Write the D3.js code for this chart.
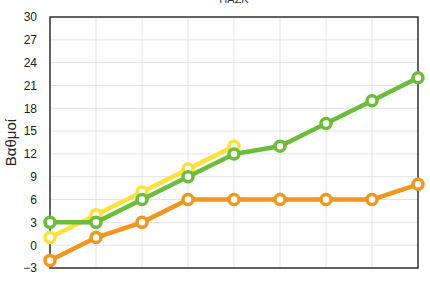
<!DOCTYPE html>
<html><head><meta charset="utf-8">
<script src="https://cdn.jsdelivr.net/npm/d3@7"></script>
<style>body{margin:0;background:#fff}svg{display:block}</style>
</head><body>
<svg id="c" width="430" height="286"></svg>
<script>
const categories = [1,2,3,4,5,6,7,8,9];
const orangeValues = [-2,1,3,6,6,6,6,6,8];
const yellowValues = [1,4,7,10,13];
const greenValues = [3,3,6,9,12,13,16,19,22];
const yTicks = [-3,0,3,6,9,12,15,18,21,24,27,30];
const titleText = "ΠΑΣΚ";
const yLabel = "Βαθμοί";

const svg = d3.select("#c");
const m = {l:50, r:12, t:17, b:18};
const W = 430, H = 286;
const x = d3.scaleLinear().domain([1,9]).range([m.l, W-m.r]);
const y = d3.scaleLinear().domain([-3,30]).range([H-m.b, m.t]);
const font = "'Liberation Sans', Arial, sans-serif";

svg.append("text").attr("x", (m.l+W-m.r)/2).attr("y", 3).attr("text-anchor","middle")
  .attr("font-family", font).attr("font-size", 11).attr("fill","#333").text(titleText);

const g = svg.append("g");
g.selectAll("line.h").data(yTicks).join("line").attr("class","h")
  .attr("x1", m.l).attr("x2", W-m.r).attr("y1", d=>y(d)).attr("y2", d=>y(d))
  .attr("stroke","#e3e3e3").attr("stroke-width",1);
g.selectAll("line.v").data(categories).join("line").attr("class","v")
  .attr("y1", m.t).attr("y2", H-m.b).attr("x1", d=>x(d)).attr("x2", d=>x(d))
  .attr("stroke","#e3e3e3").attr("stroke-width",1);

const yAxis = d3.axisLeft(y).tickValues(yTicks).tickSize(0).tickPadding(13);
const ya = svg.append("g").attr("transform",`translate(${m.l},0)`).call(yAxis);
ya.select(".domain").remove();
ya.selectAll("text").attr("font-family", font).attr("font-size", 12).attr("fill","#222");

svg.append("rect").attr("x", m.l).attr("y", m.t).attr("width", W-m.r-m.l).attr("height", H-m.b-m.t)
  .attr("fill","none").attr("stroke","#333").attr("stroke-width",1.5);

svg.append("text").attr("transform",`translate(16,${(m.t+H-m.b)/2}) rotate(-90)`)
  .attr("text-anchor","middle").attr("font-family", font).attr("font-size", 15).attr("fill","#222").text(yLabel);

const series = [
  {vals: orangeValues, color: "#f2961e"},
  {vals: yellowValues, color: "#fde13a"},
  {vals: greenValues, color: "#6cbd3b"}
];
const line = d3.line().x((d,i)=>x(categories[i])).y(d=>y(d));
series.forEach(s => {
  const sg = svg.append("g");
  sg.append("path").datum(s.vals).attr("d", line).attr("fill","none")
    .attr("stroke", s.color).attr("stroke-width", 4.5).attr("stroke-linejoin","round");
  sg.selectAll("circle").data(s.vals).join("circle")
    .attr("cx",(d,i)=>x(categories[i])).attr("cy", d=>y(d)).attr("r", 5)
    .attr("fill","#fff").attr("stroke", s.color).attr("stroke-width", 3.5);
});
</script>
</body></html>
